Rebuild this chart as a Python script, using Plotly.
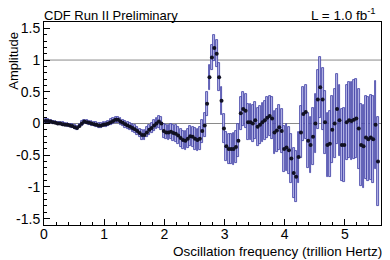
import plotly.graph_objects as go

# amplitude scan
freq = [
    0.03, 0.07, 0.11, 0.15, 0.19, 0.23, 0.27, 0.31, 0.35, 0.39,
    0.43, 0.47, 0.51, 0.55, 0.59, 0.63, 0.67, 0.71, 0.75, 0.79,
    0.83, 0.87, 0.91, 0.95, 0.99, 1.03, 1.07, 1.11, 1.15, 1.19,
    1.23, 1.27, 1.31, 1.35, 1.39, 1.43, 1.47, 1.51, 1.55, 1.59,
    1.63, 1.67, 1.71, 1.75, 1.79, 1.83, 1.87, 1.91, 1.95, 1.99,
    2.03, 2.07, 2.11, 2.15, 2.19, 2.23, 2.27, 2.31, 2.35, 2.39,
    2.43, 2.47, 2.51, 2.55, 2.59, 2.63, 2.67, 2.71, 2.75, 2.79,
    2.83, 2.87, 2.91, 2.95, 2.99, 3.03, 3.07, 3.11, 3.15, 3.19,
    3.23, 3.27, 3.31, 3.35, 3.39, 3.43, 3.47, 3.51, 3.55, 3.59,
    3.63, 3.67, 3.71, 3.75, 3.79, 3.83, 3.87, 3.91, 3.95, 3.99,
    4.03, 4.07, 4.11, 4.15, 4.19, 4.23, 4.27, 4.31, 4.35, 4.39,
    4.43, 4.47, 4.51, 4.55, 4.59, 4.63, 4.67, 4.71, 4.75, 4.79,
    4.83, 4.87, 4.91, 4.95, 4.99, 5.03, 5.07, 5.11, 5.15, 5.19,
    5.23, 5.27, 5.31, 5.35, 5.39, 5.43, 5.47, 5.51, 5.55,
]

amplitude = [
    0.04, 0.04, 0.03, 0.02, 0.01, 0.00, 0.00, -0.01, -0.02, -0.02,
    -0.03, -0.04, -0.06, -0.07, -0.04, 0.00, 0.03, 0.02, 0.01, 0.00,
    -0.01, -0.02, -0.03, -0.03, -0.02, -0.01, 0.00, 0.02, 0.04, 0.06,
    0.06, 0.03, 0.01, -0.01, -0.03, -0.05, -0.07, -0.09, -0.12, -0.15,
    -0.18, -0.18, -0.14, -0.10, -0.07, -0.03, 0.00, 0.03, 0.00, -0.12,
    -0.14, -0.14, -0.13, -0.15, -0.16, -0.19, -0.23, -0.26, -0.27, -0.24,
    -0.20, -0.21, -0.24, -0.26, -0.24, -0.12, -0.03, 0.31, 0.73, 1.04,
    1.19, 1.10, 0.73, 0.36, -0.08, -0.36, -0.40, -0.40, -0.40, -0.37,
    -0.27, 0.16, 0.23, 0.20, 0.02, 0.02, 0.00, 0.05, -0.05, -0.02,
    0.02, 0.05, 0.09, 0.12, 0.08, -0.14, -0.11, -0.06, -0.12, -0.40,
    -0.38, -0.42, -0.55, -0.78, -0.84, -0.53, -0.14, 0.15, 0.18, -0.27,
    -0.34, -0.21, 0.00, 0.38, 0.57, 0.38, 0.02, -0.34, -0.32, -0.10,
    0.00, 0.23, 0.05, -0.34, -0.34, 0.02, 0.05, 0.04, 0.06, 0.08,
    -0.08, -0.34, -0.36, -0.22, -0.25, -0.22, -0.25, -0.02, -0.60,
]

error = [
    0.025, 0.025, 0.025, 0.025, 0.025, 0.026, 0.026, 0.027, 0.027, 0.028,
    0.028, 0.029, 0.030, 0.030, 0.031, 0.032, 0.033, 0.033, 0.034, 0.035,
    0.036, 0.037, 0.038, 0.039, 0.040, 0.041, 0.043, 0.044, 0.046, 0.047,
    0.049, 0.051, 0.053, 0.055, 0.057, 0.059, 0.062, 0.064, 0.067, 0.070,
    0.073, 0.076, 0.079, 0.082, 0.085, 0.089, 0.092, 0.096, 0.10, 0.11,
    0.11, 0.12, 0.12, 0.12, 0.13, 0.13, 0.14, 0.14, 0.15, 0.15,
    0.16, 0.16, 0.17, 0.17, 0.18, 0.18, 0.19, 0.19, 0.20, 0.20,
    0.21, 0.21, 0.22, 0.22, 0.23, 0.23, 0.24, 0.24, 0.25, 0.25,
    0.26, 0.26, 0.27, 0.27, 0.28, 0.28, 0.29, 0.29, 0.30, 0.30,
    0.31, 0.31, 0.32, 0.32, 0.33, 0.34, 0.34, 0.35, 0.35, 0.36,
    0.37, 0.37, 0.38, 0.39, 0.40, 0.40, 0.41, 0.42, 0.42, 0.43,
    0.44, 0.45, 0.46, 0.47, 0.48, 0.49, 0.50, 0.51, 0.52, 0.53,
    0.54, 0.55, 0.56, 0.57, 0.58, 0.59, 0.60, 0.61, 0.62, 0.62,
    0.63, 0.64, 0.65, 0.65, 0.66, 0.67, 0.68, 0.69, 0.70,
]

x_ticks = [0, 1, 2, 3, 4, 5]
y_ticks = [-1.5, -1, -0.5, 0, 0.5, 1, 1.5]
y_labels = ['-1.5', '-1', '-0.5', '0', '0.5', '1', '1.5']

FONT = 'Liberation Sans, Arial, Helvetica, sans-serif'

fig = go.Figure()

# error bars drawn as thin boxes, like the ROOT E2 style
fig.add_trace(go.Bar(
    x=freq,
    y=[2 * e for e in error],
    base=[a - e for a, e in zip(amplitude, error)],
    width=0.03,
    marker=dict(color='#b8b8e8', line=dict(color='#3a3aa2', width=0.8)),
    hoverinfo='skip',
    showlegend=False,
))

fig.add_trace(go.Scatter(
    x=freq,
    y=amplitude,
    mode='markers',
    marker=dict(color='#111122', size=4, symbol='circle'),
    showlegend=False,
))

# reference lines at amplitude 0 and 1
for yv in [0, 1]:
    fig.add_shape(type='line', xref='paper', x0=0, x1=1, yref='y', y0=yv, y1=yv,
                  line=dict(color='#8a8a8a', width=1), layer='below')

axis_common = dict(showgrid=False, zeroline=False, showline=True, linecolor='black',
                   linewidth=1, mirror=True, ticks='inside', tickcolor='black',
                   ticklen=6, tickfont=dict(family=FONT, size=14, color='black'))

fig.update_xaxes(range=[0, 5.6], tickvals=x_ticks, ticklabelstandoff=-4,
                 minor=dict(dtick=0.2, ticks='inside', ticklen=3, tickcolor='black'),
                 **axis_common)
fig.update_yaxes(range=[-1.6, 1.6], tickvals=y_ticks, ticktext=y_labels,
                 minor=dict(dtick=0.1, ticks='inside', ticklen=3, tickcolor='black'),
                 **axis_common)

# the page body keeps its 8px margin, so the figure is 8px smaller each way
fig.update_layout(
    width=382, height=252,
    margin=dict(l=31, r=8, t=14, b=35),
    paper_bgcolor='white', plot_bgcolor='white',
    font=dict(family=FONT, color='black'),
    bargap=0,
    annotations=[
        dict(text='CDF Run II Preliminary', xref='paper', yref='paper', x=0, y=1,
             xanchor='left', yanchor='bottom', xshift=-2, yshift=-3,
             showarrow=False, font=dict(size=13)),
        dict(text='L = 1.0 fb<sup>-1</sup>', xref='paper', yref='paper', x=0.99, y=1,
             xanchor='right', yanchor='bottom', yshift=-3, showarrow=False,
             font=dict(size=13.5)),
        dict(text='Oscillation frequency (trillion Hertz)', xref='paper', yref='paper',
             x=1, y=-0.123, xanchor='right', yanchor='middle', xshift=3, yshift=-2,
             showarrow=False, font=dict(size=13.5)),
        dict(text='Amplitude', xref='paper', yref='paper', x=-0.093, y=0.96,
             xanchor='center', yanchor='top', textangle=-90, showarrow=False,
             font=dict(size=13)),
    ],
)

fig.write_html('out.html')
